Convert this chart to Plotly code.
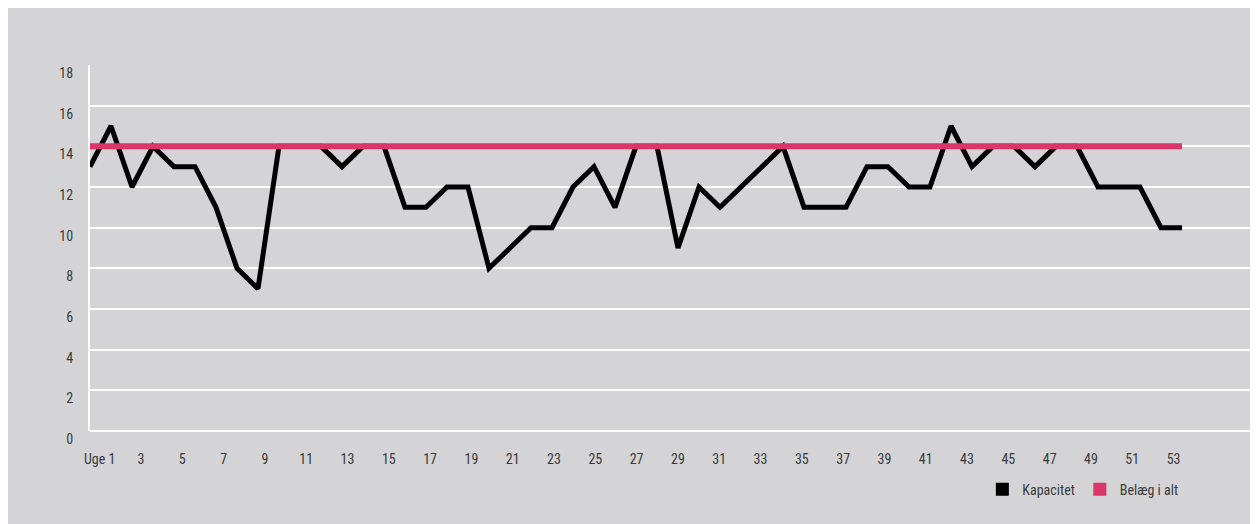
import plotly.graph_objects as go

# ugenumre og værdier
uger = list(range(1, 54))
kapacitet = [13, 15, 12, 14, 13, 13, 11, 8, 7, 14,
             14, 14, 13, 14, 14, 11, 11, 12, 12, 8,
             9, 10, 10, 12, 13, 11, 14, 14, 9, 12,
             11, 12, 13, 14, 11, 11, 11, 13, 13, 12,
             12, 15, 13, 14, 14, 13, 14, 14, 12, 12,
             12, 10, 10]
belaeg = [14, 14, 14, 14, 14, 14, 14, 14, 14, 14,
          14, 14, 14, 14, 14, 14, 14, 14, 14, 14,
          14, 14, 14, 14, 14, 14, 14, 14, 14, 14,
          14, 14, 14, 14, 14, 14, 14, 14, 14, 14,
          14, 14, 14, 14, 14, 14, 14, 14, 14, 14,
          14, 14, 14]
tick_uger = list(range(1, 54, 2))
tick_tekst = ["Uge 1"] + [str(u) for u in tick_uger[1:]]
y_ticks = [0, 2, 4, 6, 8, 10, 12, 14, 16, 18]

GRAA = "#d4d4d6"
SORT = "#000000"
PINK = "#d93669"
TEKST = "#3a3a3a"
FONT = "Liberation Sans Narrow, Roboto Condensed, Roboto, sans-serif"

fig = go.Figure()

fig.add_trace(go.Scatter(
    x=uger, y=kapacitet, mode="lines",
    line=dict(color=SORT, width=5),
    showlegend=False, hoverinfo="skip"
))
fig.add_trace(go.Scatter(
    x=uger, y=belaeg, mode="lines",
    line=dict(color=PINK, width=6),
    showlegend=False, hoverinfo="skip"
))

# legende med firkanter
for navn, farve in [("Kapacitet", SORT), ("Belæg i alt", PINK)]:
    fig.add_trace(go.Scatter(
        x=[None], y=[None], mode="markers", name=navn,
        marker=dict(symbol="square", size=13, color=farve)
    ))

# usynlig akse til ugeetiketterne (lidt anden afstand end datapunkterne)
fig.add_trace(go.Scatter(x=[None], y=[None], xaxis="x2", showlegend=False,
                         hoverinfo="skip"))

fig.update_layout(
    width=1250, height=516,
    margin=dict(l=82, r=0, t=57, b=93),
    paper_bgcolor=GRAA,
    plot_bgcolor=GRAA,
    font=dict(family=FONT, size=14, color=TEKST),
    xaxis=dict(
        range=[1, 56.62], showticklabels=False, ticks="",
        showgrid=False, zeroline=False, showline=False,
    ),
    xaxis2=dict(
        overlaying="x", side="bottom", range=[0.53, 57.09],
        tickmode="array", tickvals=tick_uger, ticktext=tick_tekst,
        ticks="", showgrid=False, zeroline=False, showline=False,
        ticklabelstandoff=18, tickfont=dict(size=14, color=TEKST),
    ),
    yaxis=dict(
        range=[0, 18], tickvals=y_ticks, ticks="",
        showgrid=True, gridcolor="white", gridwidth=2,
        zeroline=True, zerolinecolor="white", zerolinewidth=2,
        showline=True, linecolor="white", linewidth=2,
        ticklabelshift=8, ticklabelstandoff=12,
        tickfont=dict(size=14, color=TEKST),
    ),
    legend=dict(
        orientation="h", x=0.764, xanchor="left",
        y=-0.16, yanchor="middle",
        bgcolor="rgba(0,0,0,0)",
        font=dict(size=14, color=TEKST),
        itemwidth=30, traceorder="normal",
    ),
)

fig.write_html("out.html")
